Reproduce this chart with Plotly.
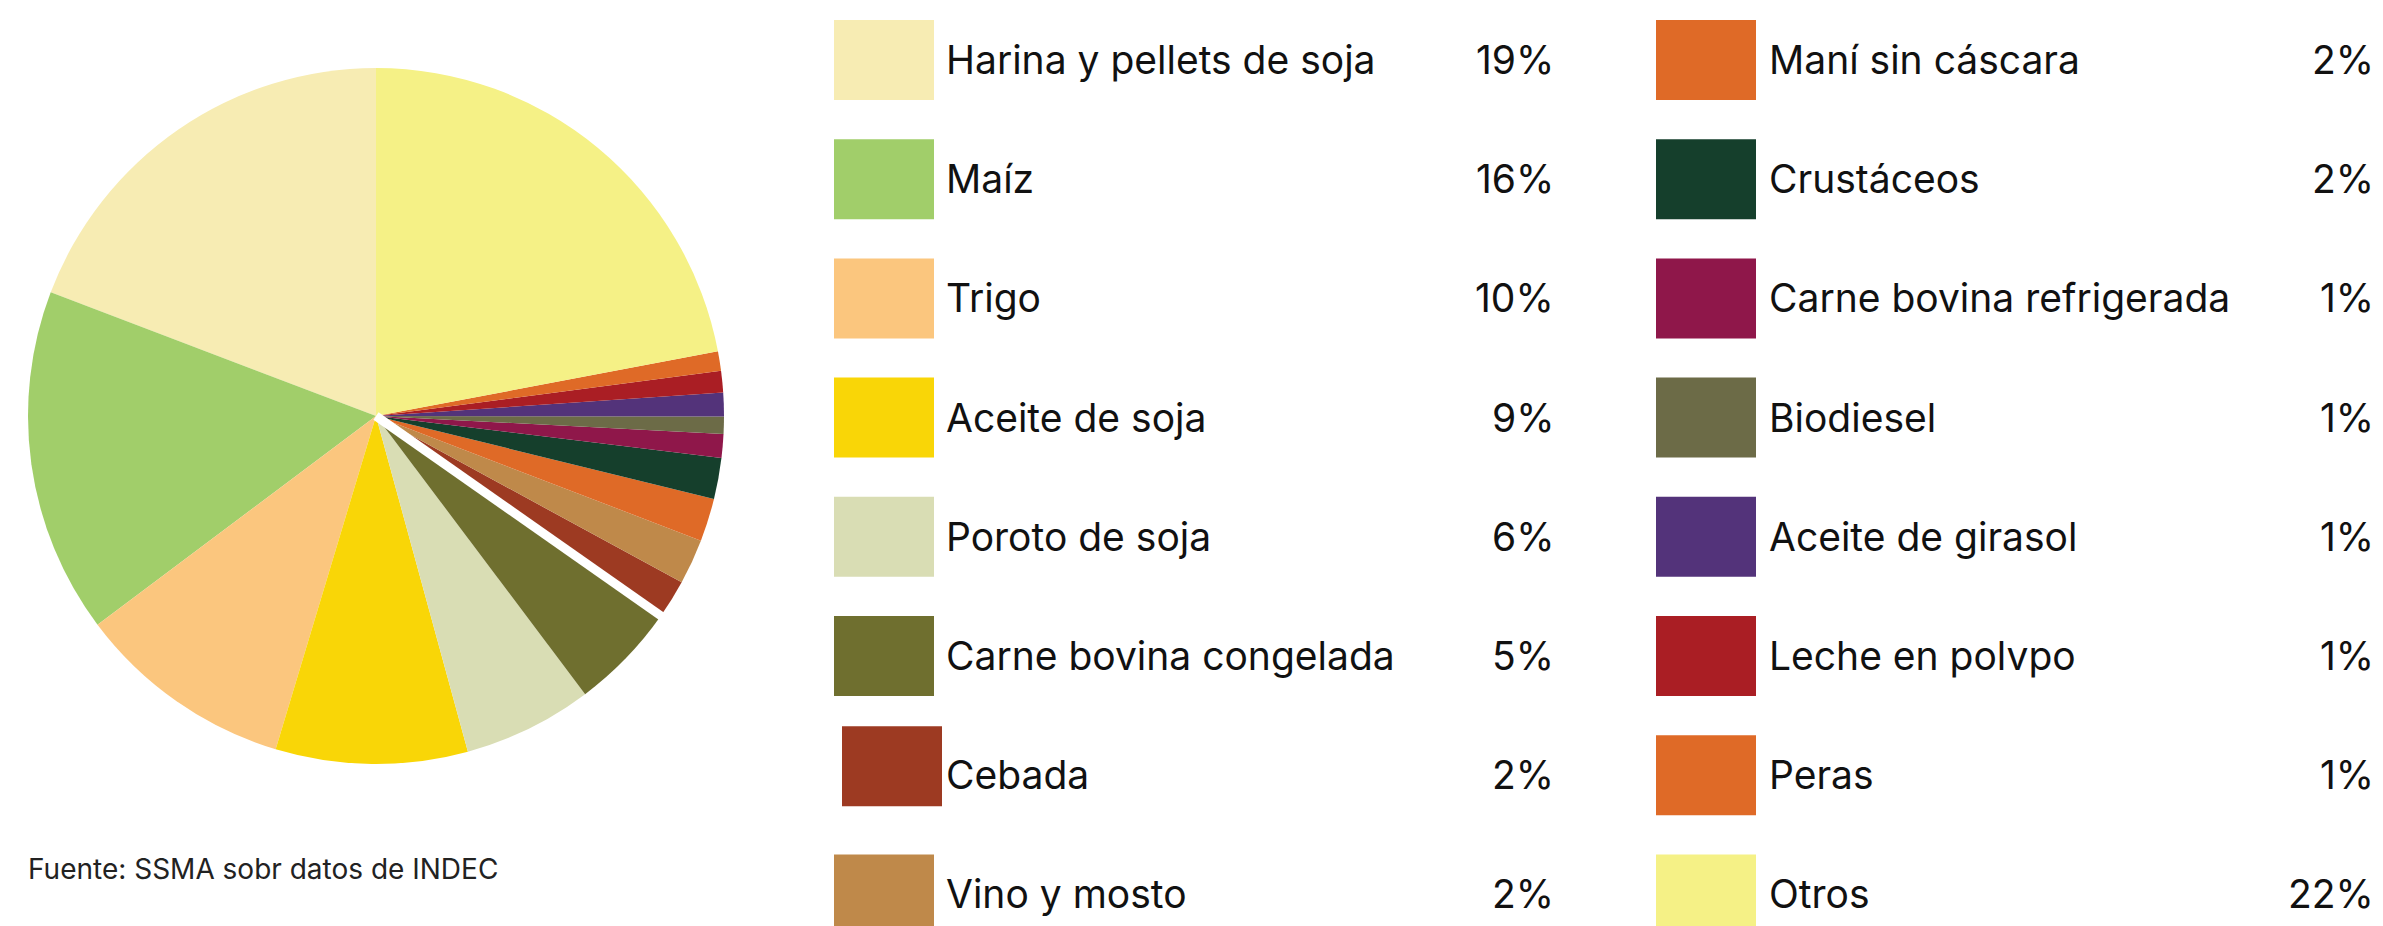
import math
import plotly.graph_objects as go

# ---- data ----
labels = ["Harina y pellets de soja", "Maíz", "Trigo", "Aceite de soja", "Poroto de soja",
          "Carne bovina congelada", "Cebada", "Vino y mosto", "Maní sin cáscara", "Crustáceos",
          "Carne bovina refrigerada", "Biodiesel", "Aceite de girasol", "Leche en polvpo",
          "Peras", "Otros"]
shares = [19.2, 16.0, 10.1, 8.9, 6.0, 5.0, 1.8, 2.1, 2.0, 1.9, 1.1, 0.8, 1.1, 1.0, 0.9, 22.0]
pct_text = ["19%", "16%", "10%", "9%", "6%", "5%", "2%", "2%", "2%", "2%", "1%", "1%", "1%",
            "1%", "1%", "22%"]
colors = ["#F7ECB3", "#A1CE6A", "#FBC67E", "#F9D607", "#D9DDB4", "#6F6F2F", "#9D3A22",
          "#BF894A", "#DF6A27", "#153F2C", "#8F174A", "#6C6B47", "#53337A", "#AA1E24",
          "#DF6A27", "#F5F186"]
source = "Fuente: SSMA sobr datos de INDEC"

SW, SH = 2383, 926          # screen size
OFF = 8                     # page body margin
W, H = SW - OFF, SH - OFF   # figure size
FONT = "Inter"

# pie geometry (screen pixels)
cx, cy, r = 376, 416, 348

total = sum(shares)
rot = -shares[0] / total * 360.0   # first slice starts at 12 o'clock, going counterclockwise

fig = go.Figure()
fig.add_trace(go.Pie(
    labels=labels, values=shares, sort=False, direction="counterclockwise", rotation=rot,
    marker=dict(colors=colors, line=dict(width=0)),
    textinfo="none", hoverinfo="label+percent", showlegend=False,
    domain=dict(x=[(cx - OFF - r) / W, (cx - OFF + r) / W],
                y=[1 - (cy - OFF + r) / H, 1 - (cy - OFF - r) / H]),
))

shapes = []
annotations = []

# white gap between "Carne bovina congelada" and "Cebada"
cum = sum(shares[:6]) / total
theta = cum * 2 * math.pi
ex = cx - (r + 4) * math.sin(theta)
ey = cy - (r + 4) * math.cos(theta)
shapes.append(dict(type="line", xref="x", yref="y", x0=cx, y0=cy, x1=ex, y1=ey,
                   line=dict(color="white", width=9)))

# custom legend
row_h = 119.2
cols = [dict(box=834, text=944, pct=1556), dict(box=1656, text=1767, pct=2376)]
for i, (lab, pct, col) in enumerate(zip(labels, pct_text, colors)):
    c = cols[i // 8]
    row = i % 8
    top = 20 + row_h * row
    bx = c["box"]
    if lab == "Cebada":
        bx += 8
        top -= 9
    shapes.append(dict(type="rect", xref="x", yref="y", x0=bx, x1=bx + 100, y0=top, y1=top + 80,
                       fillcolor=col, line=dict(width=0), layer="above"))
    ty = 20 + row_h * row + 39.5
    annotations.append(dict(x=c["text"], y=ty, xref="x", yref="y", text=lab, showarrow=False,
                            xanchor="left", yanchor="middle",
                            font=dict(family=FONT, size=39, color="#111111")))
    annotations.append(dict(x=c["pct"], y=ty, xref="x", yref="y", text=pct, showarrow=False,
                            xanchor="right", yanchor="middle",
                            font=dict(family=FONT, size=39, color="#111111")))

annotations.append(dict(x=26, y=869, xref="x", yref="y", text=source, showarrow=False,
                        xanchor="left", yanchor="middle",
                        font=dict(family=FONT, size=28, color="#222222")))

fig.update_layout(
    width=W, height=H, margin=dict(l=0, r=0, t=0, b=0),
    paper_bgcolor="white", plot_bgcolor="rgba(0,0,0,0)",
    xaxis=dict(range=[OFF, OFF + W], visible=False, fixedrange=True, domain=[0, 1]),
    yaxis=dict(range=[OFF + H, OFF], visible=False, fixedrange=True, domain=[0, 1]),
    shapes=shapes, annotations=annotations,
)

fig.write_html("out.html")
